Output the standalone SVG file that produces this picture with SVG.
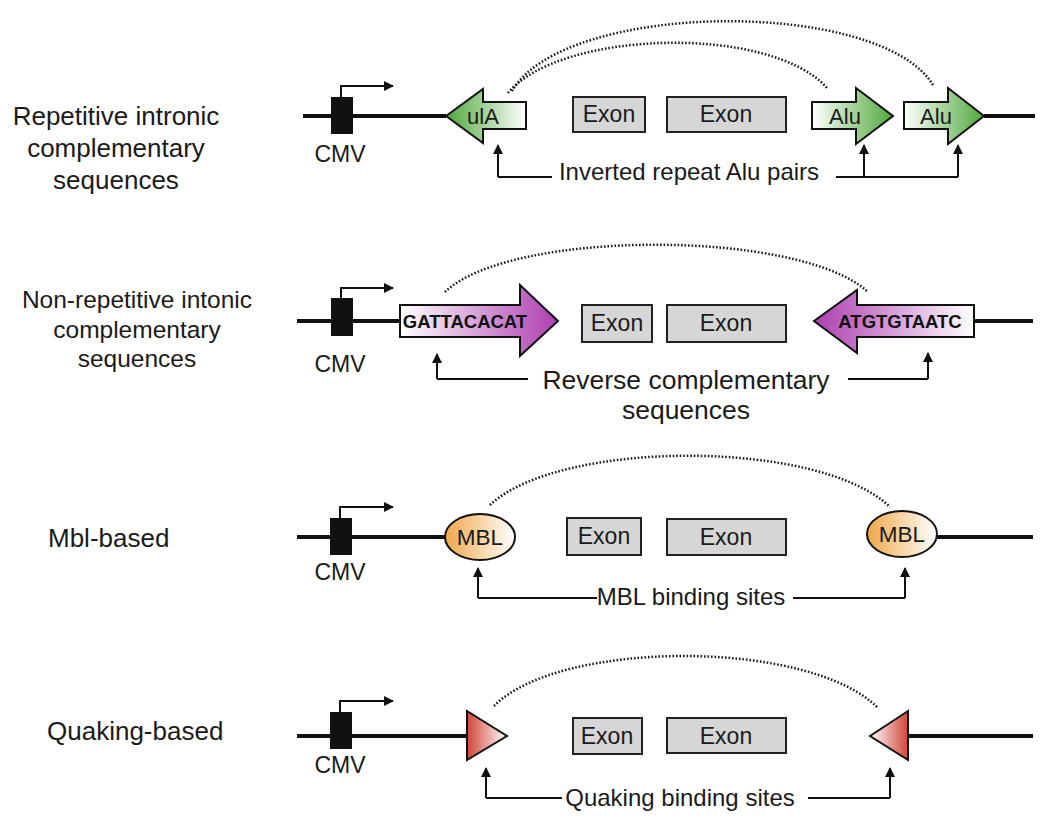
<svg xmlns="http://www.w3.org/2000/svg" width="1050" height="819" viewBox="0 0 1050 819">
<defs>
<linearGradient id="gL" x1="0" y1="0" x2="1" y2="0"><stop offset="0" stop-color="#4fa83a"/><stop offset="1" stop-color="#ffffff"/></linearGradient>
<linearGradient id="gR" x1="0" y1="0" x2="1" y2="0"><stop offset="0" stop-color="#ffffff"/><stop offset="1" stop-color="#4fa83a"/></linearGradient>
<linearGradient id="pR" x1="0" y1="0" x2="1" y2="0"><stop offset="0" stop-color="#ffffff"/><stop offset="1" stop-color="#ad3eb0"/></linearGradient>
<linearGradient id="pL" x1="0" y1="0" x2="1" y2="0"><stop offset="0" stop-color="#ad3eb0"/><stop offset="1" stop-color="#ffffff"/></linearGradient>
<linearGradient id="oL" x1="0" y1="0" x2="1" y2="0"><stop offset="0" stop-color="#efa84a"/><stop offset="1" stop-color="#ffffff"/></linearGradient>
<linearGradient id="rL" x1="0" y1="0" x2="1" y2="0"><stop offset="0" stop-color="#d2453a"/><stop offset="1" stop-color="#ffffff"/></linearGradient>
<linearGradient id="rR" x1="0" y1="0" x2="1" y2="0"><stop offset="0" stop-color="#ffffff"/><stop offset="1" stop-color="#d2453a"/></linearGradient>
<marker id="ah" viewBox="0 0 10 10" refX="9" refY="5" markerWidth="5" markerHeight="5" markerUnits="strokeWidth" orient="auto"><path d="M0,0 L10,5 L0,10 z" fill="#111"/></marker>
<marker id="ahs" viewBox="0 0 10 10" refX="9" refY="5" markerWidth="5" markerHeight="5" markerUnits="strokeWidth" orient="auto"><path d="M0,0 L10,5 L0,10 z" fill="#111"/></marker>
</defs>
<style>
text{font-family:"Liberation Sans",Arial,sans-serif;fill:#1a1a1a}
.lab{font-size:26px;text-anchor:middle}
.labs{font-size:26px;text-anchor:start}
.cmv{font-size:23px;text-anchor:middle}
.ex{font-size:23px;text-anchor:middle}
.call{font-size:24px;text-anchor:middle}
.seq{font-size:18.5px;font-weight:bold;text-anchor:middle;fill:#111}
.bb{stroke:#111;stroke-width:4;fill:none}
.box{fill:#111}
.prom{stroke:#111;stroke-width:2;fill:none;marker-end:url(#ah)}
.exon{fill:#d6d6d6;stroke:#222;stroke-width:2}
.shape{stroke:#111;stroke-width:2;stroke-linejoin:miter}
.dot{stroke:#1a1a1a;stroke-width:2.5;fill:none;stroke-dasharray:1.6 1.9}
.co{stroke:#111;stroke-width:2;fill:none}
.coa{stroke:#111;stroke-width:2;fill:none;marker-end:url(#ahs)}
</style>

<g id="labels">
<text class="lab" x="116" y="125">Repetitive intronic</text>
<text class="lab" x="116" y="157">complementary</text>
<text class="lab" x="116" y="189">sequences</text>
<text class="lab" x="137" y="308" style="font-size:24.5px">Non-repetitive intonic</text>
<text class="lab" x="137" y="338" style="font-size:24.5px">complementary</text>
<text class="lab" x="137" y="367" style="font-size:24.5px">sequences</text>
<text class="labs" x="48" y="547">Mbl-based</text>
<text class="labs" x="47" y="740">Quaking-based</text>
</g>

<g id="connectors">
<!-- row 1 -->
<path class="bb" d="M303,116 H446 M984,116 H1035"/>
<path class="dot" d="M508,93 C560,30 770,24 827,88"/>
<path class="dot" d="M512,91 C565,0 880,-2 933,85"/>
<path class="co" d="M552,177 H498"/>
<path class="coa" d="M498,177 V145"/>
<path class="co" d="M836,177 H958"/>
<path class="coa" d="M958,177 V145"/>
<path class="coa" d="M864,177 V145"/>
<!-- row 2 -->
<path class="bb" d="M297,321 H400 M974,321 H1033"/>
<path class="dot" d="M445,292 C510,229 800,229 868,292"/>
<path class="co" d="M528,379 H437"/>
<path class="coa" d="M437,379 V354"/>
<path class="co" d="M848,379 H928"/>
<path class="coa" d="M928,379 V353"/>
<!-- row 3 -->
<path class="bb" d="M297,537 H446 M936,537 H1033"/>
<path class="dot" d="M490,505 C560,439 820,439 890,507"/>
<path class="co" d="M597,598 H478"/>
<path class="coa" d="M478,598 V568"/>
<path class="co" d="M793,598 H905"/>
<path class="coa" d="M905,598 V568"/>
<!-- row 4 -->
<path class="bb" d="M297,736 H467 M908,736 H1033"/>
<path class="dot" d="M494,706 C560,639 810,639 878,708"/>
<path class="co" d="M562,798 H486"/>
<path class="coa" d="M486,798 V768"/>
<path class="co" d="M808,798 H890"/>
<path class="coa" d="M890,798 V768"/>
</g>

<g id="row1">
<g id="cmv1"><rect class="box" x="331" y="97" width="22" height="37"/><path class="prom" d="M341,97 V86 H393"/><text class="cmv" x="340" y="162">CMV</text></g>
<g id="alu-left"><polygon class="shape" fill="url(#gL)" points="446,116 483,89 483,102 526,102 526,129 483,129 483,143"/><text class="ex" x="483" y="124" style="font-size:22px">ulA</text></g>
<g id="exon1a"><rect class="exon" x="573" y="97" width="72" height="35"/><text class="ex" x="609" y="122">Exon</text></g>
<g id="exon1b"><rect class="exon" x="667" y="97" width="119" height="35"/><text class="ex" x="726" y="122">Exon</text></g>
<g id="alu-right1"><polygon class="shape" fill="url(#gR)" points="812,102 856,102 856,88 893,116 856,144 856,129 812,129"/><text class="ex" x="845" y="124" style="font-size:22px">Alu</text></g>
<g id="alu-right2"><polygon class="shape" fill="url(#gR)" points="904,102 948,102 948,88 984,116 948,144 948,129 904,129"/><text class="ex" x="936" y="124" style="font-size:22px">Alu</text></g>
<text class="call" x="689" y="180">Inverted repeat Alu pairs</text>
</g>

<g id="row2">
<g id="cmv2"><rect class="box" x="331" y="298" width="22" height="38"/><path class="prom" d="M341,298 V288 H393"/><text class="cmv" x="340" y="372">CMV</text></g>
<g id="seq-left"><polygon class="shape" fill="url(#pR)" points="400,305 520,305 520,285 558,321 520,356 520,337 400,337"/><text class="seq" x="465" y="328">GATTACACAT</text></g>
<g id="exon2a"><rect class="exon" x="582" y="305" width="70" height="37"/><text class="ex" x="617" y="331">Exon</text></g>
<g id="exon2b"><rect class="exon" x="667" y="305" width="119" height="37"/><text class="ex" x="726" y="331">Exon</text></g>
<g id="seq-right"><polygon class="shape" fill="url(#pL)" points="814,321 857,290 857,305 974,305 974,337 857,337 857,353"/><text class="seq" x="900" y="328">ATGTGTAATC</text></g>
<text class="call" x="686" y="389" style="font-size:26.5px">Reverse complementary</text>
<text class="call" x="686" y="419" style="font-size:26.5px">sequences</text>
</g>

<g id="row3">
<g id="cmv3"><rect class="box" x="330" y="518" width="22" height="37"/><path class="prom" d="M340,518 V507 H393"/><text class="cmv" x="340" y="580">CMV</text></g>
<g id="mbl-left"><ellipse class="shape" fill="url(#oL)" cx="480" cy="537" rx="35" ry="23"/><text class="ex" x="480" y="545" style="font-size:22.5px">MBL</text></g>
<g id="exon3a"><rect class="exon" x="567" y="518" width="74" height="37"/><text class="ex" x="604" y="544">Exon</text></g>
<g id="exon3b"><rect class="exon" x="667" y="519" width="119" height="36"/><text class="ex" x="726" y="545">Exon</text></g>
<g id="mbl-right"><ellipse class="shape" fill="url(#oL)" cx="902" cy="534" rx="35" ry="23"/><text class="ex" x="902" y="542" style="font-size:22.5px">MBL</text></g>
<text class="call" x="691" y="605">MBL binding sites</text>
</g>

<g id="row4">
<g id="cmv4"><rect class="box" x="330" y="712" width="22" height="37"/><path class="prom" d="M340,712 V701 H393"/><text class="cmv" x="340" y="773">CMV</text></g>
<g id="qk-left"><polygon class="shape" fill="url(#rL)" points="467,711 507,736 467,760"/></g>
<g id="exon4a"><rect class="exon" x="573" y="718" width="69" height="36"/><text class="ex" x="607" y="744">Exon</text></g>
<g id="exon4b"><rect class="exon" x="667" y="718" width="119" height="35"/><text class="ex" x="726" y="744">Exon</text></g>
<g id="qk-right"><polygon class="shape" fill="url(#rR)" points="870,736 908,711 908,760"/></g>
<text class="call" x="680" y="806">Quaking binding sites</text>
</g>
</svg>
